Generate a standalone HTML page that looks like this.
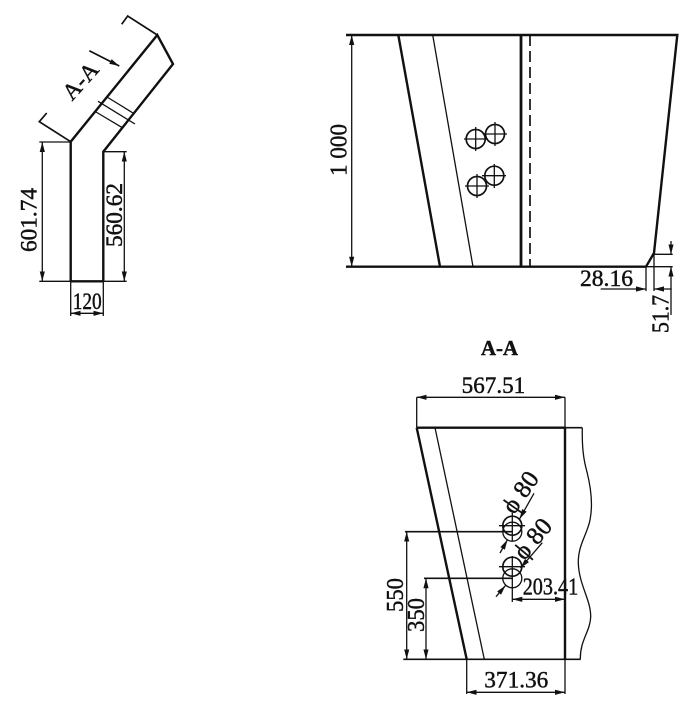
<!DOCTYPE html>
<html><head><meta charset="utf-8"><style>
html,body{margin:0;padding:0;background:#fff;width:700px;height:718px;overflow:hidden}
svg{display:block}
text{font-family:"Liberation Serif",serif;fill:#111;stroke:#111;stroke-width:.45}
.k{stroke:#111;stroke-width:2.4;fill:none}
.m{stroke:#111;stroke-width:1.7;fill:none}
.t{stroke:#111;stroke-width:1.3;fill:none}
</style></head><body>
<svg width="700" height="718" viewBox="0 0 700 718" xmlns="http://www.w3.org/2000/svg">
<defs>
<marker id="e" markerUnits="userSpaceOnUse" markerWidth="10" markerHeight="6" refX="10" refY="3" orient="auto"><path d="M0 .4L10 3L0 5.6z" fill="#111"/></marker>
<marker id="s" markerUnits="userSpaceOnUse" markerWidth="10" markerHeight="6" refX="0" refY="3" orient="auto"><path d="M10 .4L0 3L10 5.6z" fill="#111"/></marker>
</defs>

<!-- left view -->
<path class="k" d="M70.7 281.3V141.7L157.3 35L173 64L103.3 151.7V281.3"/>
<path class="k" d="M70.7 281.3H103.3"/>
<path class="m" d="M121.7 24.3L127.7 16L157.3 35M70.7 141.7L39.3 121.7L46.7 113"/>
<path class="m" d="M89.3 50.7L119.3 66" marker-end="url(#e)"/>
<path class="t" d="M107 97L133 113M98 101.3L135 124M96 112L121.7 127.3"/>
<path class="t" d="M39.3 142H70.7M39.3 281.3H126.7M103.3 151.7H126.7M70.7 281.3V316M103.3 281.3V316"/>
<path class="t" d="M42.3 142V281.3" marker-start="url(#s)" marker-end="url(#e)"/>
<path class="t" d="M124.3 151.7V281.3" marker-start="url(#s)" marker-end="url(#e)"/>
<path class="t" d="M70.7 313.3H103.3" marker-start="url(#s)" marker-end="url(#e)"/>
<text transform="translate(36.5 252) rotate(-90)" font-size="23" textLength="64" lengthAdjust="spacingAndGlyphs">601.74</text>
<text transform="translate(122 247) rotate(-90)" font-size="23" textLength="64" lengthAdjust="spacingAndGlyphs">560.62</text>
<text x="72.7" y="309" font-size="23" textLength="29" lengthAdjust="spacingAndGlyphs">120</text>
<text transform="translate(86 86) rotate(-48)" font-size="23" text-anchor="middle" textLength="42" lengthAdjust="spacingAndGlyphs">A-A</text>

<!-- top right view -->
<path class="k" d="M346 35H677.3L654 253L646 266.7H346"/>
<path class="k" d="M398.3 35L440 266.7"/>
<path class="t" d="M432.7 35L473 266.7" stroke-width="1.5"/>
<path d="M521 35V266.7" stroke="#111" stroke-width="2.8" fill="none"/>
<path class="m" d="M530 35V266.7" stroke-dasharray="11 5"/>
<path class="t" d="M351.7 35V266.7" marker-start="url(#s)" marker-end="url(#e)"/>
<circle class="m" cx="475.7" cy="139" r="9.5"/><path class="t" d="M464 139H488M475.7 127V151"/>
<circle class="m" cx="495" cy="134" r="9.5"/><path class="t" d="M483 134H507M495 122V146"/>
<circle class="m" cx="477" cy="186" r="9.5"/><path class="t" d="M465 186H489M477 174V198"/>
<circle class="m" cx="494.3" cy="175.7" r="9.5"/><path class="t" d="M482 175.7H506M494.3 164V188"/>
<text transform="translate(346.5 176) rotate(-90)" font-size="24" textLength="52" lengthAdjust="spacingAndGlyphs">1 000</text>
<text x="580" y="286" font-size="23" textLength="53" lengthAdjust="spacingAndGlyphs">28.16</text>
<path class="t" d="M600.7 289H646" marker-end="url(#e)"/>
<path class="t" d="M671.7 289H654" marker-end="url(#e)"/>
<path class="t" d="M646 266.7V291M654 253V291M654 254.3H672.7M646 266.7H672.7"/>
<path class="t" d="M671 241V254.3" marker-end="url(#e)"/>
<path class="t" d="M671 315V266.7" marker-end="url(#e)"/>
<text transform="translate(668.5 333) rotate(-90)" font-size="24" textLength="38" lengthAdjust="spacingAndGlyphs">51.7</text>
<text x="481" y="355" font-size="21" font-weight="bold" textLength="37" lengthAdjust="spacingAndGlyphs">A-A</text>

<!-- section A-A -->
<path class="k" d="M416.7 427.7H565M416.7 427.7L466.7 659.3M565 427.7V659.3"/>
<path class="m" d="M565 427.7H582.3M403.3 659.3H580.7"/>
<path class="t" d="M435 427.7L484.3 659.3" stroke-width="1.6"/>
<path class="t" d="M582.3 427.7C582 445 583 458 587 472C591 488 593 505 590 520C587 535 578 545 578.3 563C579 585 591 600 590.7 617C590 632 580 640 580.3 659.3"/>
<path class="t" d="M416.7 397.3V427.7M565 397.3V427.7"/>
<path class="t" d="M416.7 397.3H565" marker-start="url(#s)" marker-end="url(#e)"/>
<text x="461.7" y="393" font-size="23" textLength="63.5" lengthAdjust="spacingAndGlyphs">567.51</text>

<path class="m" d="M405 531.7H512M424 578.3H512"/>
<path class="t" d="M406.7 531.7V659.3" marker-start="url(#s)" marker-end="url(#e)"/>
<path class="t" d="M426 578.3V659.3" marker-start="url(#s)" marker-end="url(#e)"/>
<text transform="translate(403 612) rotate(-90)" font-size="24" textLength="34" lengthAdjust="spacingAndGlyphs">550</text>
<text transform="translate(424 632) rotate(-90)" font-size="24" textLength="34" lengthAdjust="spacingAndGlyphs">350</text>

<circle class="m" cx="512.3" cy="525.7" r="9.5"/>
<circle class="t" cx="512.3" cy="531.7" r="9.5"/>
<circle class="m" cx="512.3" cy="566.7" r="9.5"/>
<circle class="t" cx="512.3" cy="578.3" r="9.5"/>
<path class="t" d="M499 525.7H525M512.3 513V541"/>
<path class="t" d="M499 566.7H525M512.3 556V602"/>
<path class="t" d="M534 493.3L519.5 519" marker-end="url(#e)"/>
<path class="t" d="M500 553L507.5 539.7" marker-end="url(#e)"/>
<path class="t" d="M542.3 542.7L520.5 568" marker-end="url(#e)"/>
<path class="t" d="M496 596.7L505.5 585.5" marker-end="url(#e)"/>
<text transform="translate(527 497) rotate(-55)" font-size="25" text-anchor="middle" textLength="45" lengthAdjust="spacing">&#981; 80</text>
<text transform="translate(539 544) rotate(-50)" font-size="25" text-anchor="middle" textLength="45" lengthAdjust="spacing">&#981; 80</text>
<text x="522.7" y="594.3" font-size="24" textLength="55.5" lengthAdjust="spacingAndGlyphs">203.41</text>
<path class="t" d="M512.3 599.3H565" marker-start="url(#s)" marker-end="url(#e)"/>

<path class="t" d="M466.7 659.3V694M565 659.3V694"/>
<path class="t" d="M466.7 692.3H565" marker-start="url(#s)" marker-end="url(#e)"/>
<text x="484.3" y="687.7" font-size="23" textLength="64" lengthAdjust="spacingAndGlyphs">371.36</text>
</svg>
</body></html>
